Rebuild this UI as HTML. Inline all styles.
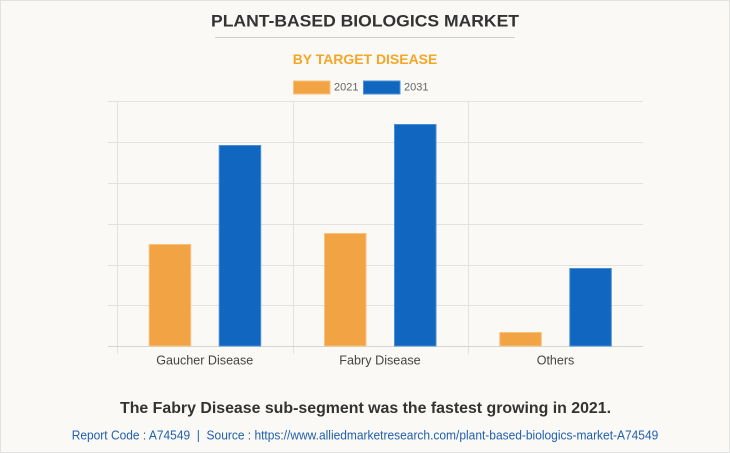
<!DOCTYPE html>
<html><head><meta charset="utf-8"><style>
html,body{margin:0;padding:0;background:#faf9f5;}
svg{display:block;}
text{font-family:"Liberation Sans",Arial,sans-serif;}
</style></head><body>
<svg width="730" height="453" viewBox="0 0 730 453" xmlns="http://www.w3.org/2000/svg">
<rect x="0.5" y="0.5" width="729" height="452" fill="#faf9f5" stroke="#e2e2e2" stroke-width="1"/>
<text x="365" y="26.7" text-anchor="middle" font-size="17" font-weight="bold" fill="#333" textLength="308" lengthAdjust="spacingAndGlyphs">PLANT-BASED BIOLOGICS MARKET</text>
<line x1="215" y1="37.5" x2="515" y2="37.5" stroke="#cfcfcf" stroke-width="1"/>
<text x="365" y="64" text-anchor="middle" font-size="14" font-weight="bold" fill="#f6a627" textLength="144.6" lengthAdjust="spacingAndGlyphs">BY TARGET DISEASE</text>
<rect x="293.5" y="81" width="36.5" height="13" fill="#f2a444" stroke="#f6c27f" stroke-width="1"/>
<text x="334" y="90.5" font-size="11" fill="#666">2021</text>
<rect x="363.5" y="81" width="36.5" height="13" fill="#1166c0" stroke="#4a8fd6" stroke-width="1"/>
<text x="404" y="90.5" font-size="11" fill="#666">2031</text>
<g stroke="#e3e2de" stroke-width="1">
<line x1="108" y1="101.5" x2="643" y2="101.5"/>
<line x1="108" y1="142.5" x2="643" y2="142.5"/>
<line x1="108" y1="183.5" x2="643" y2="183.5"/>
<line x1="108" y1="224.5" x2="643" y2="224.5"/>
<line x1="108" y1="265.5" x2="643" y2="265.5"/>
<line x1="108" y1="305.5" x2="643" y2="305.5"/>
<line x1="117.5" y1="101" x2="117.5" y2="354"/>
<line x1="293.5" y1="101" x2="293.5" y2="354"/>
<line x1="468.5" y1="101" x2="468.5" y2="354"/>
</g>
<line x1="108" y1="346.5" x2="643" y2="346.5" stroke="#d6d5d1" stroke-width="1"/>
<g stroke-width="1">
<rect x="149.2" y="244.5" width="41.5" height="101.5" fill="#f2a444" stroke="#f6c27f"/>
<rect x="219.2" y="145.5" width="41.5" height="200.5" fill="#1166c0" stroke="#4a8fd6"/>
<rect x="324.5" y="233.5" width="41.5" height="112.5" fill="#f2a444" stroke="#f6c27f"/>
<rect x="394.5" y="124.5" width="41.5" height="221.5" fill="#1166c0" stroke="#4a8fd6"/>
<rect x="499.8" y="332.5" width="41.5" height="13.5" fill="#f2a444" stroke="#f6c27f"/>
<rect x="569.8" y="268.5" width="41.5" height="77.5" fill="#1166c0" stroke="#4a8fd6"/>
</g>
<text x="204.8" y="364.5" text-anchor="middle" font-size="12.5" fill="#444" textLength="97" lengthAdjust="spacingAndGlyphs">Gaucher Disease</text>
<text x="380" y="364.5" text-anchor="middle" font-size="12.5" fill="#444" textLength="81.4" lengthAdjust="spacingAndGlyphs">Fabry Disease</text>
<text x="555.5" y="364.5" text-anchor="middle" font-size="12.5" fill="#444">Others</text>
<text x="365.5" y="413" text-anchor="middle" font-size="16" font-weight="bold" fill="#333" textLength="491" lengthAdjust="spacingAndGlyphs">The Fabry Disease sub-segment was the fastest growing in 2021.</text>
<text x="365" y="439.3" text-anchor="middle" font-size="13" fill="#1f5fb0" textLength="586.6" lengthAdjust="spacingAndGlyphs" xml:space="preserve">Report Code : A74549  |  Source : https://www.alliedmarketresearch.com/plant-based-biologics-market-A74549</text>
</svg>
</body></html>
